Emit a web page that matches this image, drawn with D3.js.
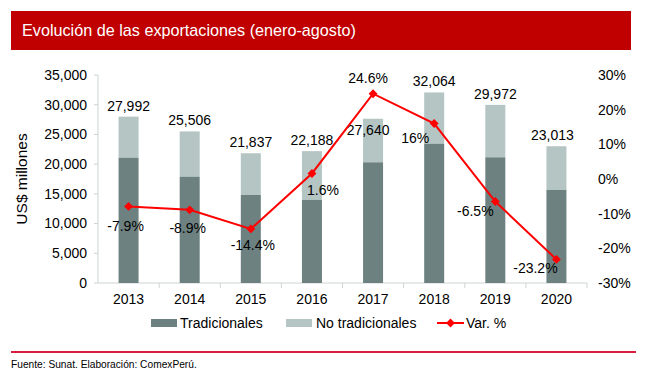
<!DOCTYPE html>
<meta charset="utf-8">
<html lang="es">
  <head>
    <style>
      body { margin: 0; background-color: #fff; }
      text { font-family: "Liberation Sans", Arial, Helvetica, sans-serif; fill: #000; }
      .lbl { font-size: 14px; }
      .tick { font-size: 14px; }
    </style>
  </head>
  <body>
    <script src="https://cdn.jsdelivr.net/npm/d3@7"></script>
    <svg id="chart"></svg>
    <script>

      var years = ["2013", "2014", "2015", "2016", "2017", "2018", "2019", "2020"];
      var tradicionales = [21085, 17890, 14810, 13970, 20310, 23440, 21150, 15650];
      var totales = [27992, 25506, 21837, 22188, 27640, 32064, 29972, 23013];
      var variacion = [-7.9, -8.9, -14.4, 1.6, 24.6, 16, -6.5, -23.2];
      var varLabels = ["-7.9%", "-8.9%", "-14.4%", "1.6%", "24.6%", "16%", "-6.5%", "-23.2%"];
      var leftTicks = [0, 5000, 10000, 15000, 20000, 25000, 30000, 35000];
      var rightTicks = [-30, -20, -10, 0, 10, 20, 30];

      var width = 646, height = 385;

      var svg = d3.select("#chart")
        .attr("width", width)
        .attr("height", height);

      // title bar
      svg.append("rect")
        .attr("x", 11).attr("y", 11)
        .attr("width", 620).attr("height", 39)
        .style("fill", "#c00000");
      svg.append("text")
        .attr("x", 22).attr("y", 36)
        .style("font-size", "16.2px")
        .style("fill", "#fff")
        .text("Evolución de las exportaciones (enero-agosto)");

      var x = d3.scaleBand().domain(years).range([98, 587]).padding(0);
      var yL = d3.scaleLinear().domain([0, 35000]).range([283, 75]);
      var yR = d3.scaleLinear().domain([-30, 30]).range([283, 75]);
      var barW = 20;
      var cx = function(d) { return x(d) + x.bandwidth() / 2; };
      var axisColor = "#ccd4d2";

      // left axis
      svg.append("line")
        .attr("x1", 98).attr("x2", 98)
        .attr("y1", yL(35000)).attr("y2", yL(0))
        .style("stroke", axisColor);
      svg.append("g").selectAll("line")
        .data(leftTicks).enter().append("line")
        .attr("x1", 94).attr("x2", 98)
        .attr("y1", function(d) { return yL(d); })
        .attr("y2", function(d) { return yL(d); })
        .style("stroke", axisColor);
      svg.append("g").selectAll("text")
        .data(leftTicks).enter().append("text")
        .attr("class", "tick")
        .attr("x", 87)
        .attr("y", function(d) { return yL(d); })
        .attr("dy", "0.35em")
        .attr("text-anchor", "end")
        .text(function(d) { return d3.format(",")(d); });

      svg.append("text")
        .attr("transform", "translate(27," + yL(17500) + ") rotate(-90)")
        .attr("text-anchor", "middle")
        .style("font-size", "15.5px")
        .text("US$ millones");

      // right axis labels
      svg.append("g").selectAll("text")
        .data(rightTicks).enter().append("text")
        .attr("class", "tick")
        .attr("x", 598)
        .attr("y", function(d) { return yR(d); })
        .attr("dy", "0.35em")
        .text(function(d) { return d + "%"; });

      // x axis
      svg.append("line")
        .attr("x1", 98).attr("x2", 587)
        .attr("y1", 283).attr("y2", 283)
        .style("stroke", axisColor);
      svg.append("g").selectAll("line")
        .data(years.slice(1).concat(["end"])).enter().append("line")
        .attr("x1", function(d, i) { return x(years[0]) + (i + 1) * x.step(); })
        .attr("x2", function(d, i) { return x(years[0]) + (i + 1) * x.step(); })
        .attr("y1", 283).attr("y2", 288)
        .style("stroke", axisColor);
      svg.append("g").selectAll("text")
        .data(years).enter().append("text")
        .attr("class", "tick")
        .attr("x", cx)
        .attr("y", 304)
        .attr("text-anchor", "middle")
        .text(function(d) { return d; });

      // bars
      var bars = svg.append("g");
      bars.selectAll(".tot")
        .data(years).enter().append("rect")
        .attr("x", function(d) { return cx(d) - barW / 2; })
        .attr("width", barW)
        .attr("y", function(d, i) { return yL(totales[i]); })
        .attr("height", function(d, i) { return yL(tradicionales[i]) - yL(totales[i]); })
        .style("fill", "#b4c5c3");
      bars.selectAll(".trad")
        .data(years).enter().append("rect")
        .attr("x", function(d) { return cx(d) - barW / 2; })
        .attr("width", barW)
        .attr("y", function(d, i) { return yL(tradicionales[i]); })
        .attr("height", function(d, i) { return yL(0) - yL(tradicionales[i]); })
        .style("fill", "#6d8181");

      // total labels (2017 sits inside the bar to clear the line)
      var totOff = [[0, -11], [0, -11], [0, -11], [0, -11], [-5, 11], [0, -11], [0, -11], [-4, -11]];
      svg.append("g").selectAll("text")
        .data(years).enter().append("text")
        .attr("class", "lbl")
        .attr("x", function(d, i) { return cx(d) + totOff[i][0]; })
        .attr("y", function(d, i) { return yL(totales[i]) + totOff[i][1]; })
        .attr("dy", "0.35em")
        .attr("text-anchor", "middle")
        .text(function(d, i) { return d3.format(",")(totales[i]); });

      // variation line
      var line = d3.line()
        .x(function(d, i) { return cx(years[i]); })
        .y(function(d) { return yR(d); });
      svg.append("path")
        .datum(variacion)
        .attr("d", line)
        .style("fill", "none")
        .style("stroke", "#ff0000")
        .style("stroke-width", 2);
      var diamond = d3.symbol().type(d3.symbolDiamond2).size(50);
      svg.append("g").selectAll("path")
        .data(variacion).enter().append("path")
        .attr("d", diamond)
        .attr("transform", function(d, i) { return "translate(" + cx(years[i]) + "," + yR(d) + ")"; })
        .style("fill", "#ff0000");

      var varOff = [[-3, 20], [-2, 18], [2, 16], [11, 17], [-5, -16], [-19, 15], [-20, 10], [-21, 9]];
      svg.append("g").selectAll("text")
        .data(variacion).enter().append("text")
        .attr("class", "lbl")
        .attr("x", function(d, i) { return cx(years[i]) + varOff[i][0]; })
        .attr("y", function(d, i) { return yR(d) + varOff[i][1]; })
        .attr("dy", "0.35em")
        .attr("text-anchor", "middle")
        .text(function(d, i) { return varLabels[i]; });

      // legend
      var lg = svg.append("g");
      lg.append("rect").attr("x", 151).attr("y", 319).attr("width", 26).attr("height", 8).style("fill", "#6d8181");
      lg.append("text").attr("class", "lbl").attr("x", 180).attr("y", 328).text("Tradicionales");
      lg.append("rect").attr("x", 286).attr("y", 319).attr("width", 26).attr("height", 8).style("fill", "#b4c5c3");
      lg.append("text").attr("class", "lbl").attr("x", 316).attr("y", 328).text("No tradicionales");
      lg.append("line").attr("x1", 437).attr("x2", 464).attr("y1", 323).attr("y2", 323)
        .style("stroke", "#ff0000").style("stroke-width", 2);
      lg.append("path").attr("d", diamond).attr("transform", "translate(450.5,323)").style("fill", "#ff0000");
      lg.append("text").attr("class", "lbl").attr("x", 466).attr("y", 328).text("Var. %");

      // footer
      svg.append("rect")
        .attr("x", 11).attr("y", 351)
        .attr("width", 625).attr("height", 2)
        .style("fill", "#d91f3d");
      svg.append("text")
        .attr("x", 11).attr("y", 368)
        .style("font-size", "10.2px")
        .text("Fuente: Sunat. Elaboración: ComexPerú.");

    </script>
  </body>
</html>
